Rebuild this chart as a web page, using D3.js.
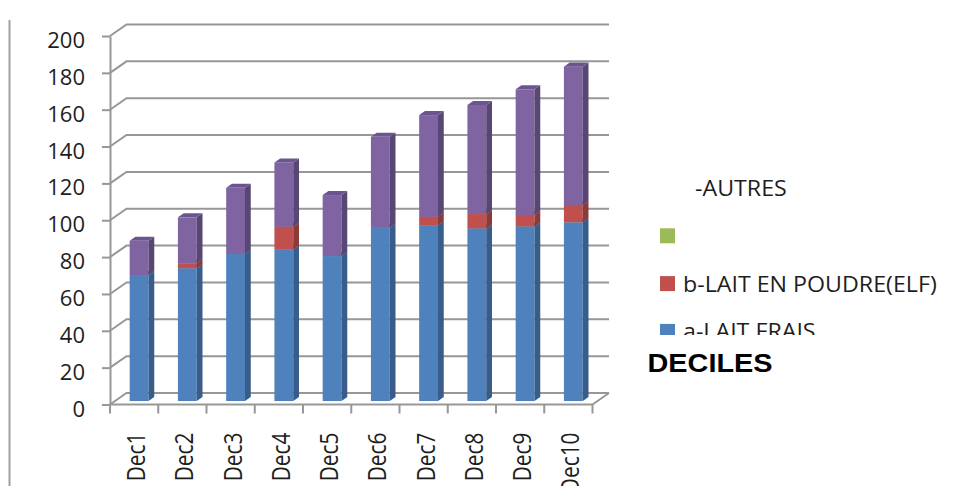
<!DOCTYPE html>
<html>
<head>
<meta charset="utf-8">
<script src="https://cdn.jsdelivr.net/npm/d3@7"></script>
<style>
  html, body { margin: 0; padding: 0; background: #fff; }
  svg { display: block; }
</style>
</head>
<body>
<svg id="chart" width="956" height="486"></svg>
<script>
// Milk consumption by income decile (stacked 3D columns)
const categories = ["Dec1", "Dec2", "Dec3", "Dec4", "Dec5", "Dec6", "Dec7", "Dec8", "Dec9", "Dec10"];
const laitFrais  = [68.4, 72.1, 79.8, 82.3, 78.7, 94.1, 95.5, 93.7, 94.8, 97.0];
const laitPoudre = [0, 2.7, 0, 12.3, 0, 0, 4.5, 7.8, 6.2, 9.4];
const serieC     = [0, 0, 0, 0, 0, 0, 0, 0, 0, 0];
const autres     = [18.6, 24.9, 35.9, 34.9, 33.1, 49.3, 55.2, 59.2, 68.2, 75.1];
const yTicks     = [0, 20, 40, 60, 80, 100, 120, 140, 160, 180, 200];
const legendLabels = ["-AUTRES", "", "b-LAIT EN POUDRE(ELF)", "a-LAIT FRAIS"];
const xTitle = "DECILES";

const series = [
  { name: "a-LAIT FRAIS", values: laitFrais, front: "#4f81bd", side: "#385d8a", top: "#4672a8" },
  { name: "b-LAIT EN POUDRE(ELF)", values: laitPoudre, front: "#c0504d", side: "#8c3a38", top: "#a84643" },
  { name: "c", values: serieC, front: "#9bbb59", side: "#718b40", top: "#88a64c" },
  { name: "AUTRES", values: autres, front: "#8064a2", side: "#594773", top: "#6c5490" }
];

const svg = d3.select("#chart");
const grid = "#979797";

// Front plane geometry and depth vector of the 3D box
const x0 = 110, x1 = 592.5;
const DX = 16.5, DY = -11.5;
const y = d3.scaleLinear().domain([0, 200]).range([404.5, 36]);
const x = d3.scaleBand().domain(categories).range([x0, x1]);

// Page border line at left
svg.append("line")
  .attr("x1", 9.5).attr("x2", 9.5).attr("y1", 20).attr("y2", 486)
  .attr("stroke", "#a0a0a0").attr("stroke-width", 2);

// Back-wall gridlines with their diagonal on the side wall
const gGrid = svg.append("g");
gGrid.selectAll("path.grid")
  .data(yTicks)
  .join("path")
  .attr("class", "grid")
  .attr("fill", "none")
  .attr("stroke", grid)
  .attr("stroke-width", 2)
  .attr("d", v => `M${x0},${y(v)}L${x0 + DX},${y(v) + DY}L${x1 + DX},${y(v) + DY}`);

// Floor: front edge and right diagonal
gGrid.append("path")
  .attr("fill", "none").attr("stroke", grid).attr("stroke-width", 2)
  .attr("d", `M${x0},${y(0)}L${x1},${y(0)}L${x1 + DX},${y(0) + DY}`);

// Y axis
const yAxis = svg.append("g")
  .attr("transform", `translate(${x0},0)`)
  .call(d3.axisLeft(y).tickValues(yTicks).tickSize(8).tickSizeOuter(0).tickPadding(17));
yAxis.select(".domain").attr("stroke", grid).attr("stroke-width", 2);
yAxis.selectAll(".tick line").attr("stroke", grid).attr("stroke-width", 2);
yAxis.selectAll(".tick text")
  .attr("font-family", "'Open Sans', sans-serif")
  .attr("font-size", 22)
  .attr("fill", "#1e1e1e")
  .attr("dy", null)
  .attr("y", 11.5);

// X axis tick marks at category boundaries
const bounds = categories.map(c => x(c)).concat([x1]);
svg.append("g").selectAll("line")
  .data(bounds)
  .join("line")
  .attr("x1", d => d).attr("x2", d => d)
  .attr("y1", y(0)).attr("y2", y(0) + 9)
  .attr("stroke", grid).attr("stroke-width", 2);

// X labels, rotated
svg.append("g").selectAll("text")
  .data(categories)
  .join("text")
  .attr("transform", c => `translate(${x(c) + x.bandwidth() / 2 + 11},432.5) rotate(-90) scale(0.835,1)`)
  .attr("text-anchor", "end")
  .attr("font-family", "'Open Sans', sans-serif")
  .attr("font-size", 25)
  .attr("fill", "#1e1e1e")
  .text(c => c);

// Stacked 3D columns
const f0 = 0.3, f1 = 0.65;
const bw = x.bandwidth() * 0.39;
const sdx = (f1 - f0) * DX, sdy = (f1 - f0) * DY;
const stack = d3.stack().keys(d3.range(series.length))
  .value((d, k) => series[k].values[d]);
const stacked = stack(d3.range(categories.length));

const gBars = svg.append("g");
categories.forEach((c, i) => {
  const bx = x(c) + (x.bandwidth() - bw) / 2 + f0 * DX;
  const g = gBars.append("g");
  stacked.forEach((layer, k) => {
    const [lo, hi] = layer[i];
    if (hi - lo <= 0) return;
    const s = series[k];
    const yt = y(hi) + f0 * DY, yb = y(lo) + f0 * DY;
    g.append("rect")
      .attr("x", bx).attr("y", yt)
      .attr("width", bw).attr("height", yb - yt)
      .attr("fill", s.front);
    g.append("path")
      .attr("fill", s.side)
      .attr("d", `M${bx + bw},${yt}L${bx + bw + sdx},${yt + sdy}L${bx + bw + sdx},${yb + sdy}L${bx + bw},${yb}Z`);
    g.append("path")
      .attr("fill", s.top)
      .attr("d", `M${bx},${yt}L${bx + bw},${yt}L${bx + bw + sdx},${yt + sdy}L${bx + sdx},${yt + sdy}Z`);
  });
});

// Legend (the area is clipped at the bottom)
svg.append("defs").append("clipPath").attr("id", "legendClip")
  .append("rect").attr("x", 640).attr("y", 150).attr("width", 316).attr("height", 185);
const legend = svg.append("g").attr("clip-path", "url(#legendClip)");
const legendColors = [null, series[2].front, series[1].front, series[0].front];
const rowY = d3.range(4).map(k => 188 + k * 47.8);
legendLabels.forEach((lab, k) => {
  if (legendColors[k]) {
    legend.append("rect")
      .attr("x", 660).attr("y", rowY[k] - 7.5)
      .attr("width", 15).attr("height", 15)
      .attr("fill", legendColors[k]);
  }
  if (lab) {
    legend.append("text")
      .attr("transform", `translate(${k === 0 ? 695 : 683},${rowY[k] + 8}) scale(1.08,1)`)
      .attr("font-family", "'Open Sans', sans-serif")
      .attr("font-size", 21.5)
      .attr("fill", "#1e1e1e")
      .text(lab);
  }
});

// Axis title
svg.append("text")
  .attr("x", 647.5).attr("y", 371.5)
  .attr("font-family", "'Liberation Sans', Arial, sans-serif")
  .attr("font-weight", "bold")
  .attr("font-size", 25.5)
  .attr("textLength", 125)
  .attr("lengthAdjust", "spacingAndGlyphs")
  .attr("fill", "#000")
  .text(xTitle);
</script>
</body>
</html>
